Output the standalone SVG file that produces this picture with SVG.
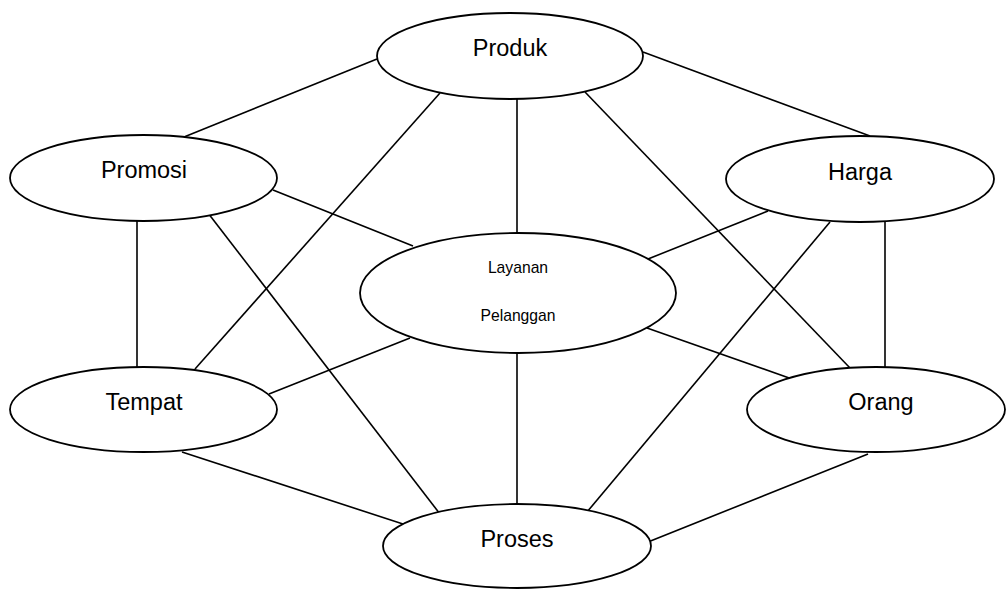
<svg xmlns="http://www.w3.org/2000/svg" width="1006" height="589" viewBox="0 0 1006 589">
<style>
.n ellipse{fill:#fff;stroke:#000;stroke-width:1.8}
.t{font-family:"Liberation Sans",Arial,sans-serif;font-size:23.5px;text-anchor:middle;fill:#000}
.s{font-family:"Liberation Sans",Arial,sans-serif;font-size:15.7px;text-anchor:middle;fill:#000}
#connectors line{stroke:#000;stroke-width:1.6}
</style>
<rect width="1006" height="589" fill="#fff"/>
<g id="connectors">
<line x1="377" y1="59" x2="184" y2="137"/>
<line x1="643" y1="52" x2="870" y2="136"/>
<line x1="440" y1="93" x2="195" y2="369"/>
<line x1="517" y1="99" x2="517" y2="233"/>
<line x1="585" y1="92" x2="850" y2="368"/>
<line x1="273" y1="190" x2="413" y2="246"/>
<line x1="137" y1="221" x2="137" y2="367"/>
<line x1="208" y1="213" x2="440" y2="514"/>
<line x1="768" y1="211" x2="648" y2="259"/>
<line x1="885" y1="222" x2="885" y2="368"/>
<line x1="830" y1="222" x2="587" y2="512"/>
<line x1="410" y1="338" x2="269" y2="394"/>
<line x1="647" y1="328" x2="792" y2="379"/>
<line x1="517" y1="353" x2="517" y2="504"/>
<line x1="182" y1="452" x2="403" y2="524"/>
<line x1="868" y1="454" x2="643" y2="544"/>
</g>
<g id="produk" class="n"><ellipse cx="510" cy="56" rx="133" ry="43"/><text class="t" x="510" y="56">Produk</text></g>
<g id="promosi" class="n"><ellipse cx="143.5" cy="178" rx="133.5" ry="43"/><text class="t" x="144" y="178">Promosi</text></g>
<g id="harga" class="n"><ellipse cx="860" cy="179" rx="134" ry="43"/><text class="t" x="860" y="180">Harga</text></g>
<g id="layanan" class="n"><ellipse cx="518" cy="293" rx="158" ry="60"/><text class="s" x="518" y="273">Layanan</text><text class="s" x="518" y="321">Pelanggan</text></g>
<g id="tempat" class="n"><ellipse cx="143.5" cy="409.5" rx="133.5" ry="42.5"/><text class="t" x="144" y="410">Tempat</text></g>
<g id="orang" class="n"><ellipse cx="876" cy="409.5" rx="129" ry="42.5"/><text class="t" x="881" y="410">Orang</text></g>
<g id="proses" class="n"><ellipse cx="517" cy="546" rx="134" ry="42"/><text class="t" x="517" y="547">Proses</text></g>
</svg>
